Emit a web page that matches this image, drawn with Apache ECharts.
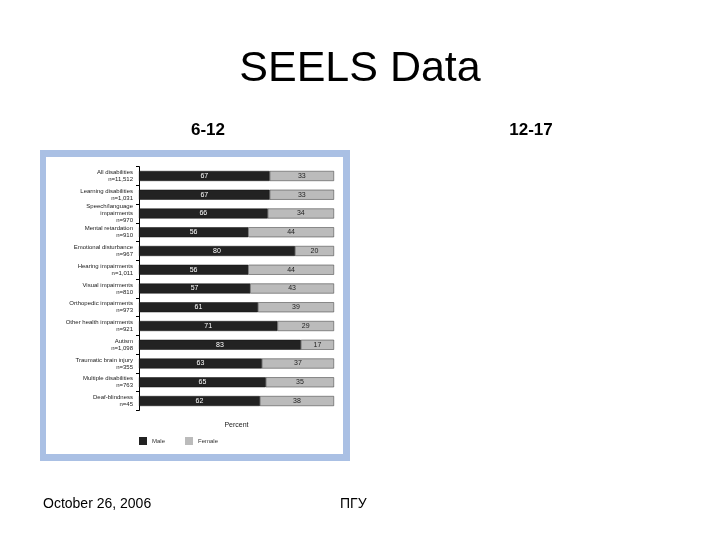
<!DOCTYPE html>
<html>
<head>
<meta charset="utf-8">
<script src="https://cdn.jsdelivr.net/npm/echarts@6/dist/echarts.min.js"></script>
<style>
html,body{margin:0;padding:0;background:#fff;}
#c{width:720px;height:540px;}
</style>
</head>
<body>
<div id="c"></div>
<script>
var categories = [
  'All disabilities\nn=11,512',
  'Learning disabilities\nn=1,031',
  'Speech/language\nimpairments\nn=970',
  'Mental retardation\nn=910',
  'Emotional disturbance\nn=967',
  'Hearing impairments\nn=1,011',
  'Visual impairments\nn=810',
  'Orthopedic impairments\nn=973',
  'Other health impairments\nn=921',
  'Autism\nn=1,098',
  'Traumatic brain injury\nn=355',
  'Multiple disabilities\nn=763',
  'Deaf-blindness\nn=45'
];
var maleValues =   [67, 67, 66, 56, 80, 56, 57, 61, 71, 83, 63, 65, 62];
var femaleValues = [33, 33, 34, 44, 20, 44, 43, 39, 29, 17, 37, 35, 38];
var seriesNames = ['Male', 'Female'];
var slideTitle = 'SEELS Data';
var leftHeading = '6-12';
var rightHeading = '12-17';
var footerDate = 'October 26, 2006';
var footerOrg = 'ПГУ';
var axisName = 'Percent';

var FONT = '"Liberation Sans", Arial, sans-serif';
var chart = echarts.init(document.getElementById('c'));
chart.setOption({
  backgroundColor: '#ffffff',
  animation: false,
  graphic: [
    {type:'rect', z:-10, shape:{x:40,y:150,width:310,height:311}, style:{fill:'#aac0e4'}},
    {type:'rect', z:-9, shape:{x:46,y:157,width:297,height:297}, style:{fill:'#ffffff'}},
    {type:'text', left:'center', top:48, style:{text:slideTitle, font:'43px '+FONT, fill:'#000'}},
    {type:'text', x:208, y:130, style:{text:leftHeading, font:'bold 17px '+FONT, fill:'#000', textAlign:'center', textVerticalAlign:'middle'}},
    {type:'text', x:531, y:130, style:{text:rightHeading, font:'bold 17px '+FONT, fill:'#000', textAlign:'center', textVerticalAlign:'middle'}},
    {type:'text', x:43, y:504, style:{text:footerDate, font:'14px '+FONT, fill:'#000', textVerticalAlign:'middle'}},
    {type:'text', x:340, y:504, style:{text:footerOrg, font:'14px '+FONT, fill:'#000', textVerticalAlign:'middle'}}
  ],
  legend: {
    data: seriesNames,
    left: 134, top: 432,
    itemWidth: 8, itemHeight: 8, itemGap: 20,
    icon: 'rect',
    itemStyle: {borderWidth: 0},
    textStyle: {fontSize: 6, color:'#333', fontFamily: FONT}
  },
  grid: {left:139, right:386, top:166.6, bottom:129.6},
  xAxis: {
    type:'value', min:0, max:100,
    name: axisName, nameLocation:'middle', nameGap: 11,
    nameTextStyle:{fontSize:7, color:'#222', fontFamily:FONT},
    axisLine:{show:false}, axisTick:{show:false}, axisLabel:{show:false}, splitLine:{show:false}
  },
  yAxis: {
    type:'category', data:categories, inverse:true,
    axisLine:{show:true, lineStyle:{color:'#000', width:1}},
    axisTick:{show:true, length:3, lineStyle:{color:'#000'}},
    axisLabel:{fontSize:6, lineHeight:7, color:'#222', margin:6, fontFamily:FONT, align:'right'}
  },
  series: [
    {name:seriesNames[0], type:'bar', stack:'a', data:maleValues, barWidth:10,
     itemStyle:{color:'#222222', borderColor:'#111', borderWidth:0.5},
     label:{show:true, position:'inside', color:'#fff', fontSize:7, fontFamily:FONT}},
    {name:seriesNames[1], type:'bar', stack:'a', data:femaleValues, barWidth:10,
     itemStyle:{color:'#bbbbbb', borderColor:'#333', borderWidth:0.5},
     label:{show:true, position:'inside', color:'#222', fontSize:7, fontFamily:FONT}}
  ]
});
</script>
</body>
</html>
